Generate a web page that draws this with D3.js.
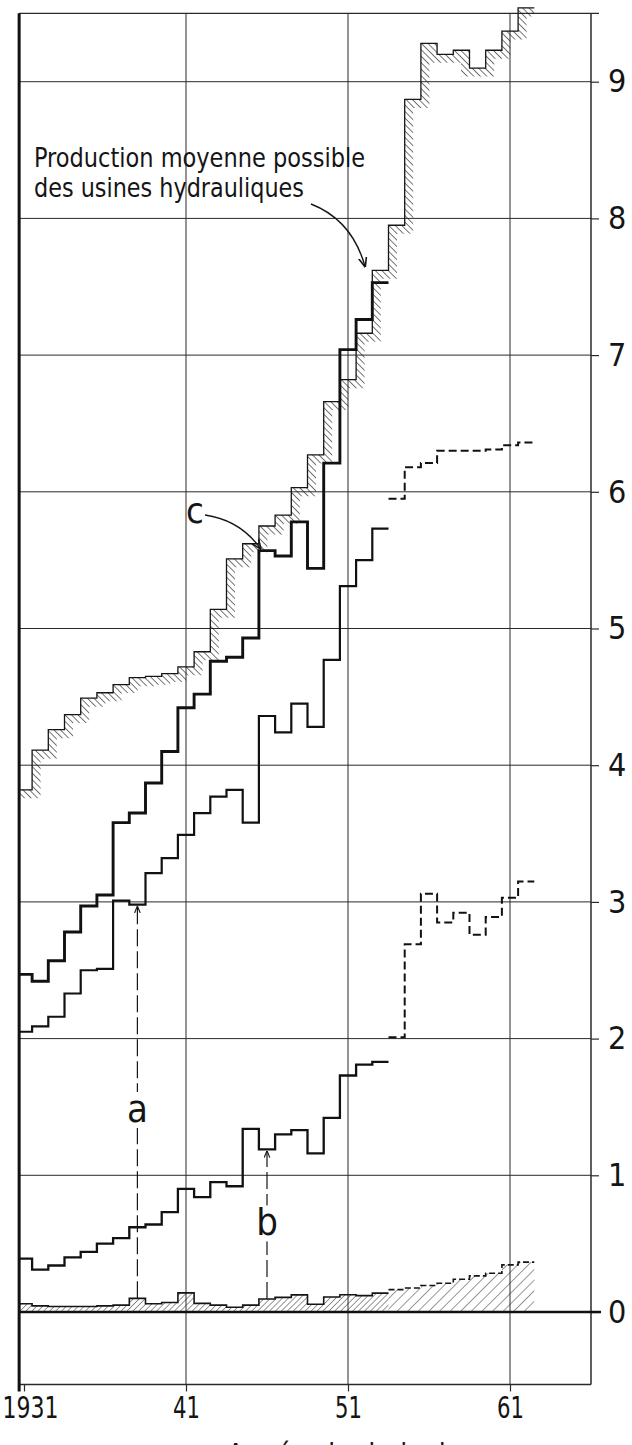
<!DOCTYPE html>
<html>
<head>
<meta charset="utf-8">
<script src="https://cdn.jsdelivr.net/npm/d3@7/dist/d3.min.js"></script>
<style>
  body { margin: 0; background: #fff; }
  svg { display: block; }
  text { font-family: "Liberation Sans Narrow", "DejaVu Sans Condensed", "Arial Narrow", sans-serif; fill: #151515; }
</style>
</head>
<body>
<div id="chart"></div>
<script>
// yearly values, TWh
const yearsAll = [1931, 1932, 1933, 1934, 1935, 1936, 1937, 1938, 1939, 1940, 1941, 1942, 1943, 1944, 1945, 1946,
                  1947, 1948, 1949, 1950, 1951, 1952, 1953, 1954, 1955, 1956, 1957, 1958, 1959, 1960, 1961, 1962];
const yearsPast = [1931, 1932, 1933, 1934, 1935, 1936, 1937, 1938, 1939, 1940, 1941, 1942, 1943, 1944, 1945, 1946,
                   1947, 1948, 1949, 1950, 1951, 1952, 1953];
const yearsFuture = [1954, 1955, 1956, 1957, 1958, 1959, 1960, 1961, 1962];

// hatched: "Production moyenne possible des usines hydrauliques"
const possible = [3.82, 4.11, 4.26, 4.37, 4.49, 4.53, 4.59, 4.64, 4.65, 4.67, 4.72, 4.83, 5.14, 5.51, 5.62, 5.75,
                  5.83, 6.03, 6.27, 6.66, 6.82, 7.16, 7.62, 7.95, 8.87, 9.28, 9.20, 9.23, 9.10, 9.23, 9.37, 9.54];
// thick line "c"
const lineC = [2.47, 2.42, 2.57, 2.78, 2.97, 3.05, 3.58, 3.65, 3.87, 4.10, 4.42, 4.52, 4.76, 4.79, 4.93, 5.57,
               5.53, 5.78, 5.44, 6.21, 7.04, 7.26, 7.53];
const lineMid = [2.05, 2.09, 2.16, 2.33, 2.50, 2.51, 3.01, 2.98, 3.21, 3.32, 3.49, 3.65, 3.77, 3.82, 3.58, 4.36,
                 4.24, 4.45, 4.28, 4.77, 5.31, 5.50, 5.73];
const lineLow = [0.39, 0.31, 0.34, 0.40, 0.44, 0.50, 0.54, 0.62, 0.64, 0.73, 0.90, 0.84, 0.95, 0.92, 1.34, 1.19,
                 1.30, 1.33, 1.16, 1.42, 1.73, 1.81, 1.83];
// forecasts (dashed)
const dashUpper = [5.95, 6.18, 6.21, 6.30, 6.30, 6.30, 6.31, 6.34, 6.36];
const dashMid = [2.01, 2.69, 3.06, 2.85, 2.92, 2.76, 2.89, 3.03, 3.15];
// hatched band along the zero line
const bottomVals = [0.06, 0.045, 0.04, 0.04, 0.04, 0.045, 0.05, 0.10, 0.06, 0.07, 0.14, 0.063, 0.05, 0.035, 0.05, 0.095,
                    0.107, 0.125, 0.057, 0.11, 0.126, 0.12, 0.138, 0.164, 0.176, 0.194, 0.21, 0.24, 0.264, 0.284, 0.345, 0.365];

const yTicks = [0, 1, 2, 3, 4, 5, 6, 7, 8, 9];
const xTicks = [1931, 1941, 1951, 1961];
const xTickLabels = ["1931", "41", "51", "61"];

const width = 632, height = 1445;
const xStart = 1930.7, xEnd = 1966, yTopVal = 9.5, yBottomVal = -0.53;

const x = d3.scaleLinear().domain([1931, 1961]).range([24, 510]);
const y = d3.scaleLinear().domain([0, 9]).range([1312, 81.7]);

const svg = d3.select("#chart").append("svg")
    .attr("width", width)
    .attr("height", height)
    .style("background", "#fff");

const defs = svg.append("defs");

function hatch(id, size, angle, sw) {
    defs.append("pattern")
        .attr("id", id)
        .attr("patternUnits", "userSpaceOnUse")
        .attr("width", size).attr("height", size)
        .attr("patternTransform", `rotate(${angle})`)
      .append("line")
        .attr("x1", 0).attr("y1", 0).attr("x2", 0).attr("y2", size)
        .attr("stroke", "#1a1a1a").attr("stroke-width", sw);
}
hatch("hatchBack", 4.6, -45, 1.2);
hatch("hatchFwd", 4.2, 45, 0.9);
hatch("hatchFwdWide", 7.5, 45, 0.9);

function arrowMarker(id, size) {
    defs.append("marker")
        .attr("id", id)
        .attr("viewBox", "0 -5 10 10")
        .attr("refX", 9).attr("refY", 0)
        .attr("markerUnits", "userSpaceOnUse")
        .attr("markerWidth", size).attr("markerHeight", size)
        .attr("orient", "auto")
      .append("path")
        .attr("d", "M0,-4L10,0L0,4")
        .attr("fill", "none")
        .attr("stroke", "#151515")
        .attr("stroke-width", 1.6);
}
arrowMarker("arrowSmall", 7);
arrowMarker("arrowBig", 10);

// step points centred on each year
function steps(yrs, vals) {
    const pts = [];
    yrs.forEach((yr, i) => {
        pts.push([Math.max(yr - 0.5, xStart), vals[i]]);
        pts.push([yr + 0.5, vals[i]]);
    });
    return pts;
}

const line = d3.line().x(d => x(d[0])).y(d => y(d[1]));

// ---- grid ----
const grid = svg.append("g").attr("stroke", "#2a2a2a");

grid.selectAll(".hgrid")
    .data(yTicks.filter(d => d !== 0))
    .enter().append("line")
    .attr("x1", x(xStart)).attr("x2", x(xEnd))
    .attr("y1", d => y(d)).attr("y2", d => y(d))
    .attr("stroke-width", 1);

grid.selectAll(".vgrid")
    .data(xTicks.slice(1))
    .enter().append("line")
    .attr("x1", d => x(d)).attr("x2", d => x(d))
    .attr("y1", y(yTopVal)).attr("y2", y(yBottomVal))
    .attr("stroke-width", 1);

// frame
grid.append("line")
    .attr("x1", x(xStart)).attr("x2", x(xEnd) + 8)
    .attr("y1", y(yTopVal)).attr("y2", y(yTopVal))
    .attr("stroke-width", 1.3);
grid.append("line")
    .attr("x1", x(xStart)).attr("x2", x(xEnd))
    .attr("y1", y(yBottomVal)).attr("y2", y(yBottomVal))
    .attr("stroke-width", 1.5);
grid.append("line")
    .attr("x1", x(xEnd)).attr("x2", x(xEnd))
    .attr("y1", y(yTopVal)).attr("y2", y(yBottomVal))
    .attr("stroke-width", 1.5);

// ---- axes ----
const yAxis = svg.append("g")
    .attr("transform", `translate(${x(xEnd)},0)`)
    .call(d3.axisRight(y).tickValues(yTicks).tickSize(8).tickPadding(9).tickFormat(d3.format("d")));
yAxis.select(".domain").remove();
yAxis.selectAll("line").attr("stroke", "#2a2a2a").attr("stroke-width", 1.2);
yAxis.selectAll("text").style("font-size", "32px").attr("fill", "#151515");

const xAxis = svg.append("g")
    .attr("transform", `translate(0,${y(yBottomVal)})`)
    .call(d3.axisBottom(x).tickValues(xTicks).tickSize(7).tickPadding(5)
        .tickFormat((d, i) => xTickLabels[i]));
xAxis.select(".domain").remove();
xAxis.selectAll("line").attr("stroke", "#2a2a2a").attr("stroke-width", 1.2);
xAxis.selectAll("text").style("font-size", "30px").attr("fill", "#151515")
    .attr("text-anchor", d => d === 1931 ? "start" : "middle")
    .attr("x", d => d === 1931 ? 2 - x(1931) : 0)
    .attr("textLength", d => d === 1931 ? 56 : 27)
    .attr("lengthAdjust", "spacingAndGlyphs");

// zero line and left axis
svg.append("line")
    .attr("x1", x(xStart)).attr("x2", x(xEnd) + 10)
    .attr("y1", y(0)).attr("y2", y(0))
    .attr("stroke", "#111").attr("stroke-width", 2.6);
svg.append("line")
    .attr("x1", x(xStart)).attr("x2", x(xStart))
    .attr("y1", y(yTopVal)).attr("y2", y(yBottomVal) + 7)
    .attr("stroke", "#111").attr("stroke-width", 3);

// ---- hatched band along the zero line ----
const bottomPast = steps(yearsAll.slice(0, 23), bottomVals.slice(0, 23));
const bottomFuture = steps(yearsAll.slice(22), bottomVals.slice(22)).slice(2);
const area0 = d3.area().x(d => x(d[0])).y0(y(0)).y1(d => y(d[1]));

svg.append("path").datum(bottomPast)
    .attr("d", area0).attr("fill", "url(#hatchFwd)");
svg.append("path").datum(bottomFuture)
    .attr("d", area0).attr("fill", "url(#hatchFwdWide)");
svg.append("path").datum(bottomPast)
    .attr("d", line).attr("fill", "none")
    .attr("stroke", "#151515").attr("stroke-width", 1.6);
svg.append("path").datum(bottomFuture)
    .attr("d", line).attr("fill", "none")
    .attr("stroke", "#151515").attr("stroke-width", 1.6)
    .attr("stroke-dasharray", "6,3");

// ---- hatched "production moyenne possible" ----
const possiblePts = steps(yearsAll, possible);
defs.append("clipPath").attr("id", "underPossible")
  .append("path").datum(possiblePts)
    .attr("d", d3.area().x(d => x(d[0])).y0(y(yBottomVal)).y1(d => y(d[1])));

svg.append("path").datum(possiblePts)
    .attr("d", line).attr("fill", "none")
    .attr("stroke", "url(#hatchBack)").attr("stroke-width", 17)
    .attr("clip-path", "url(#underPossible)");
svg.append("path").datum(possiblePts)
    .attr("d", line).attr("fill", "none")
    .attr("stroke", "#151515").attr("stroke-width", 1.3);

// ---- solid series ----
const solidSeries = [
    { vals: lineLow, w: 2.3 },
    { vals: lineMid, w: 2.2 },
    { vals: lineC, w: 2.9 }
];
solidSeries.forEach(s => {
    svg.append("path").datum(steps(yearsPast, s.vals))
        .attr("d", line).attr("fill", "none")
        .attr("stroke", "#111").attr("stroke-width", s.w)
        .attr("stroke-linejoin", "miter");
});

// ---- dashed forecasts ----
[dashUpper, dashMid].forEach(vals => {
    svg.append("path").datum(steps(yearsFuture, vals))
        .attr("d", line).attr("fill", "none")
        .attr("stroke", "#111").attr("stroke-width", 2)
        .attr("stroke-dasharray", "8,4");
});

// ---- a / b arrows ----
const refArrows = [
    { year: 1938, from: bottomVals[yearsAll.indexOf(1938)], to: lineMid[yearsPast.indexOf(1938)], label: "a", labelAt: 1.39 },
    { year: 1946, from: bottomVals[yearsAll.indexOf(1946)], to: lineLow[yearsPast.indexOf(1946)], label: "b", labelAt: 0.56 }
];
refArrows.forEach(a => {
    svg.append("line")
        .attr("x1", x(a.year)).attr("x2", x(a.year))
        .attr("y1", y(a.from)).attr("y2", y(a.to) + 2)
        .attr("stroke", "#151515").attr("stroke-width", 1.2)
        .attr("stroke-dasharray", "17,5")
        .attr("marker-end", "url(#arrowSmall)");
    svg.append("rect")
        .attr("x", x(a.year) - 11).attr("y", y(a.labelAt) - 30)
        .attr("width", 22).attr("height", 36)
        .attr("fill", "#fff");
    svg.append("text")
        .attr("x", x(a.year)).attr("y", y(a.labelAt))
        .attr("text-anchor", "middle")
        .style("font-size", "38px")
        .text(a.label);
});

// ---- annotations ----
svg.append("text").attr("x", 34).attr("y", 167)
    .attr("textLength", 331).attr("lengthAdjust", "spacingAndGlyphs")
    .style("font-size", "27px")
    .text("Production moyenne possible");
svg.append("text").attr("x", 34).attr("y", 197)
    .attr("textLength", 270).attr("lengthAdjust", "spacingAndGlyphs")
    .style("font-size", "27px")
    .text("des usines hydrauliques");

const tipP = [x(1952.05), y(possible[yearsAll.indexOf(1953)]) - 4];
svg.append("path")
    .attr("d", `M311,204 Q352,220 ${tipP[0]},${tipP[1]}`)
    .attr("fill", "none").attr("stroke", "#151515").attr("stroke-width", 1.4)
    .attr("marker-end", "url(#arrowBig)");

svg.append("text").attr("x", 186).attr("y", 523)
    .style("font-size", "36px")
    .text("c");
const tipC = [x(1945.6), y(lineC[yearsPast.indexOf(1946)]) - 2];
svg.append("path")
    .attr("d", `M205,515 Q240,520 ${tipC[0]},${tipC[1]}`)
    .attr("fill", "none").attr("stroke", "#151515").attr("stroke-width", 1.4)
    .attr("marker-end", "url(#arrowBig)");

// caption cut by the page edge
svg.append("text").attr("x", 227).attr("y", 1464)
    .style("font-size", "28px")
    .text("Années hydrologiques");
</script>
</body>
</html>
